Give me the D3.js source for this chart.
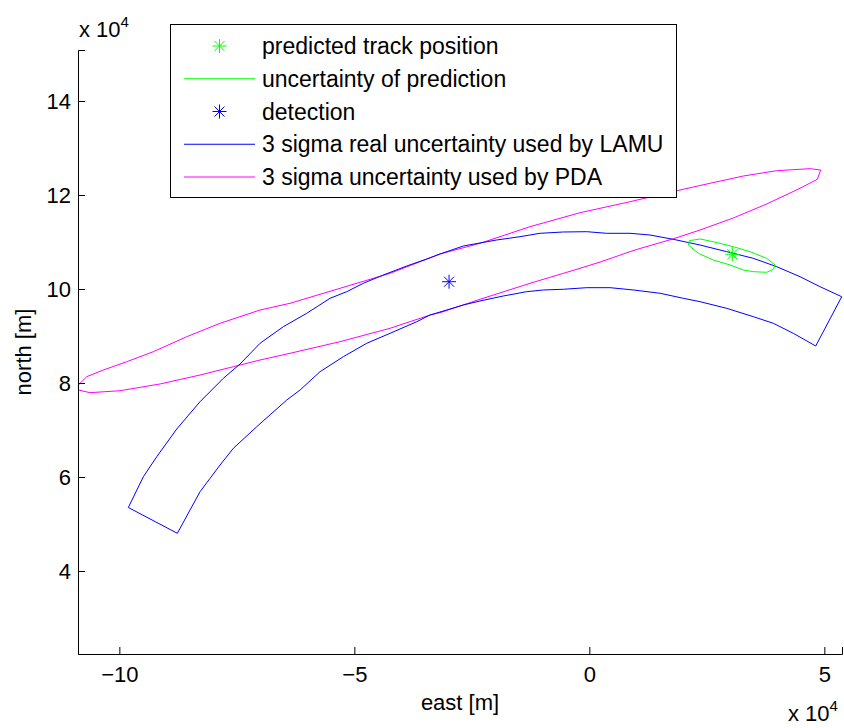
<!DOCTYPE html>
<html>
<head>
<meta charset="utf-8">
<script src="https://cdn.jsdelivr.net/npm/d3@7"></script>
<style>
  body { margin: 0; background: #fff; }
  text { font-family: "Liberation Sans", Arial, sans-serif; fill: #000; }
</style>
</head>
<body>
<div id="chart"></div>
<script>
// all positions are in units of 10^4 m (east, north)

// 3 sigma band used by LAMU (outer arc, then inner arc back)
var lamuBand = [
    [-9.809, 5.351], [-9.489, 6.006], [-9.204, 6.432], [-8.779, 7.021], [-8.283, 7.602],
    [-7.787, 8.100], [-7.432, 8.404], [-7.006, 8.845], [-6.511, 9.198], [-6.013, 9.483],
    [-5.517, 9.802], [-5.162, 9.943], [-4.809, 10.121], [-4.383, 10.298], [-3.885, 10.489],
    [-3.460, 10.638], [-3.177, 10.745], [-2.681, 10.915], [-1.970, 11.043], [-1.474, 11.113],
    [-1.049, 11.185], [-0.553, 11.213], [-0.055, 11.219], [0.370, 11.185], [0.866, 11.185],
    [1.291, 11.149], [1.787, 11.057], [2.355, 10.936], [2.923, 10.794], [3.489, 10.653],
    [3.987, 10.474], [4.483, 10.262], [4.909, 10.049], [5.370, 9.836],
    [4.817, 8.787], [4.340, 9.057], [3.915, 9.270], [3.489, 9.411], [2.923, 9.589],
    [2.355, 9.730], [2.000, 9.802], [1.504, 9.909], [0.936, 9.979], [0.440, 10.028],
    [-0.055, 10.028], [-0.553, 9.994], [-0.979, 9.979], [-1.332, 9.943], [-1.830, 9.851],
    [-2.326, 9.745], [-2.681, 9.660], [-3.034, 9.553], [-3.389, 9.447], [-3.672, 9.304],
    [-4.240, 9.057], [-4.736, 8.845], [-5.234, 8.560], [-5.730, 8.240], [-6.155, 7.851],
    [-6.438, 7.638], [-7.077, 7.070], [-7.574, 6.611], [-7.857, 6.255], [-8.070, 5.972],
    [-8.283, 5.687], [-8.496, 5.298], [-8.766, 4.802], [-9.809, 5.351]
];

// 3 sigma ellipse used by PDA
var pdaEllipse = [
    [-10.872, 7.957], [-10.694, 8.134], [-10.340, 8.277], [-9.843, 8.453], [-9.277, 8.666],
    [-8.566, 8.985], [-7.857, 9.270], [-7.006, 9.553], [-6.368, 9.696], [-5.304, 10.015],
    [-4.240, 10.334], [-3.177, 10.745], [-2.326, 10.972], [-1.262, 11.326], [-0.198, 11.623],
    [0.866, 11.857], [1.860, 12.091], [2.568, 12.249], [3.277, 12.404], [3.987, 12.517],
    [4.696, 12.560], [4.923, 12.532], [4.851, 12.334], [4.483, 12.143], [3.774, 11.809],
    [3.064, 11.511], [2.355, 11.255], [1.753, 11.057], [1.079, 10.862], [0.866, 10.794],
    [0.228, 10.574], [-0.198, 10.440], [-1.262, 10.121], [-2.326, 9.781], [-3.177, 9.496],
    [-3.389, 9.447], [-4.240, 9.164], [-5.304, 8.879], [-6.368, 8.632], [-7.006, 8.489],
    [-7.574, 8.347], [-8.283, 8.170], [-9.134, 7.979], [-9.985, 7.836], [-10.623, 7.794],
    [-10.872, 7.851], [-10.872, 7.957]
];

// uncertainty of prediction
var predEllipse = [
    [2.128, 11.028], [2.106, 10.936], [2.319, 10.760], [2.638, 10.617], [2.994, 10.511],
    [3.277, 10.404], [3.489, 10.368], [3.774, 10.355], [3.915, 10.419], [3.951, 10.511],
    [3.774, 10.653], [3.419, 10.794], [3.064, 10.900], [2.638, 11.006], [2.355, 11.064],
    [2.128, 11.028]
];

var predictedPos = [[3.043, 10.738]];
var detectionPos = [[-2.985, 10.155]];

var xTicks = [-10, -5, 0, 5];
var yTicks = [4, 6, 8, 10, 12, 14];

var legendItems = [
    { label: "predicted track position", color: "#00ff00", type: "star" },
    { label: "uncertainty of prediction", color: "#00ff00", type: "line" },
    { label: "detection", color: "#0000ff", type: "star" },
    { label: "3 sigma real uncertainty used by LAMU", color: "#0000ff", type: "line" },
    { label: "3 sigma uncertainty used by PDA", color: "#ff00ff", type: "line" }
];

var width = 844, height = 728;
var margin = { left: 78, right: 2, top: 50, bottom: 74 };

var svg = d3.select("#chart").append("svg")
    .attr("width", width)
    .attr("height", height);

var x = d3.scaleLinear().domain([-10.88, 5.376]).range([margin.left, width - margin.right]);
var y = d3.scaleLinear().domain([2.234, 15.085]).range([height - margin.bottom, margin.top]);

var line = d3.line()
    .x(function(d) { return x(d[0]); })
    .y(function(d) { return y(d[1]); });

// the curves
svg.append("path").datum(pdaEllipse)
    .attr("d", line).attr("fill", "none").attr("stroke", "#ff00ff").attr("stroke-width", 1);
svg.append("path").datum(lamuBand)
    .attr("d", line).attr("fill", "none").attr("stroke", "#0000ff").attr("stroke-width", 1);
svg.append("path").datum(predEllipse)
    .attr("d", line).attr("fill", "none").attr("stroke", "#00ff00").attr("stroke-width", 1);

// matlab style '*' marker
function star(g, cx, cy, color) {
    var s = 7, d = 5;
    var p = "M" + cx + "," + (cy - s) + "V" + (cy + s) +
            "M" + (cx - s) + "," + cy + "H" + (cx + s) +
            "M" + (cx - d) + "," + (cy - d) + "L" + (cx + d) + "," + (cy + d) +
            "M" + (cx - d) + "," + (cy + d) + "L" + (cx + d) + "," + (cy - d);
    g.append("path").attr("d", p).attr("stroke", color).attr("stroke-width", 1).attr("fill", "none");
}

predictedPos.forEach(function(d) { star(svg, x(d[0]), y(d[1]), "#00ff00"); });
detectionPos.forEach(function(d) { star(svg, x(d[0]), y(d[1]), "#0000ff"); });

// axes, ticks pointing inward like matlab
var xAxis = svg.append("g")
    .attr("transform", "translate(0," + (height - margin.bottom) + ")")
    .call(d3.axisBottom(x).tickValues(xTicks).tickSize(-7).tickPadding(14).tickFormat(d3.format("d")));
var yAxis = svg.append("g")
    .attr("transform", "translate(" + margin.left + ",0)")
    .call(d3.axisLeft(y).tickValues(yTicks).tickSize(-7).tickPadding(14).tickFormat(d3.format("d")));

[xAxis, yAxis].forEach(function(a) {
    a.select(".domain").attr("stroke", "#000");
    a.selectAll(".tick line").attr("stroke", "#000");
    a.selectAll(".tick text")
        .attr("font-size", 22)
        .attr("font-family", "Liberation Sans, Arial, sans-serif")
        .attr("fill", "#000");
});
xAxis.selectAll(".tick text").attr("dy", "0.71em").attr("y", 12);
yAxis.selectAll(".tick text").attr("x", -7);

// exponent labels
var exp1 = svg.append("text").attr("x", 79).attr("y", 37).attr("font-size", 22);
exp1.append("tspan").text("x 10");
exp1.append("tspan").attr("dy", -10).attr("font-size", 15).text("4");

var exp2 = svg.append("text").attr("x", 788).attr("y", 721).attr("font-size", 22);
exp2.append("tspan").text("x 10");
exp2.append("tspan").attr("dy", -10).attr("font-size", 15).text("4");

// axis titles
svg.append("text")
    .attr("x", (margin.left + width - margin.right) / 2)
    .attr("y", 710)
    .attr("text-anchor", "middle")
    .attr("font-size", 22)
    .text("east [m]");

svg.append("text")
    .attr("transform", "translate(31," + ((margin.top + height - margin.bottom) / 2) + ") rotate(-90)")
    .attr("text-anchor", "middle")
    .attr("font-size", 22)
    .text("north [m]");

// legend
var lg = svg.append("g");
lg.append("rect")
    .attr("x", 170.5).attr("y", 24.5).attr("width", 506).attr("height", 173)
    .attr("fill", "#fff").attr("stroke", "#000").attr("stroke-width", 1);

var rowY = d3.scaleLinear().domain([0, 4]).range([46, 177]);

legendItems.forEach(function(it, i) {
    var cy = rowY(i);
    if (it.type == "line") {
        lg.append("line")
            .attr("x1", 184).attr("x2", 255).attr("y1", cy).attr("y2", cy)
            .attr("stroke", it.color).attr("stroke-width", 1);
    } else {
        star(lg, 219.5, cy, it.color);
    }
    lg.append("text")
        .attr("x", 262).attr("y", cy).attr("dy", "0.35em")
        .attr("font-size", 23)
        .text(it.label);
});
</script>
</body>
</html>
